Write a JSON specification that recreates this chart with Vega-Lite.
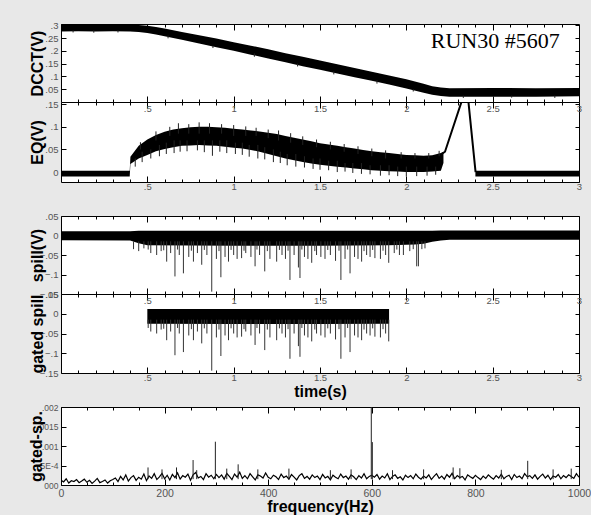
{
"$schema": "https://vega.github.io/schema/vega-lite/v6.json",
"background": "#e8e8e8",
"padding": {"left": 27, "top": 19, "right": 2, "bottom": 0},
"config": {
  "view": {"stroke": "black", "fill": "white", "strokeWidth": 1},
  "axis": {"domain": false, "grid": false, "labelFont": "Liberation Sans Narrow, Liberation Sans, sans-serif", "labelFontSize": 9.5, "labelColor": "#555", "tickColor": "black", "tickWidth": 1, "titleFont": "Liberation Sans", "titleFontSize": 16, "titleFontWeight": "bold", "titleColor": "black", "labelFlush": false, "labelOverlap": false, "labelBound": false}
},
"datasets": {
  "dcct": [
    {"t":0.00,"lo":0.276,"hi":0.304},{"t":0.10,"lo":0.277,"hi":0.303},{"t":0.20,"lo":0.276,"hi":0.304},{"t":0.30,"lo":0.277,"hi":0.303},{"t":0.40,"lo":0.276,"hi":0.303},{"t":0.45,"lo":0.274,"hi":0.301},{"t":0.50,"lo":0.270,"hi":0.298},{"t":0.55,"lo":0.264,"hi":0.293},{"t":0.60,"lo":0.257,"hi":0.287},{"t":0.70,"lo":0.243,"hi":0.274},{"t":0.80,"lo":0.229,"hi":0.261},{"t":0.90,"lo":0.214,"hi":0.248},{"t":1.00,"lo":0.200,"hi":0.234},{"t":1.10,"lo":0.185,"hi":0.220},{"t":1.20,"lo":0.170,"hi":0.206},{"t":1.30,"lo":0.155,"hi":0.191},{"t":1.40,"lo":0.140,"hi":0.177},{"t":1.50,"lo":0.126,"hi":0.162},{"t":1.60,"lo":0.111,"hi":0.148},{"t":1.70,"lo":0.097,"hi":0.133},{"t":1.80,"lo":0.083,"hi":0.118},{"t":1.90,"lo":0.068,"hi":0.104},{"t":2.00,"lo":0.053,"hi":0.089},{"t":2.10,"lo":0.036,"hi":0.071},{"t":2.15,"lo":0.028,"hi":0.062},{"t":2.20,"lo":0.023,"hi":0.057},{"t":2.25,"lo":0.021,"hi":0.054},{"t":2.50,"lo":0.021,"hi":0.055},{"t":2.75,"lo":0.021,"hi":0.054},{"t":3.00,"lo":0.022,"hi":0.055}
  ],
  "dcctn": [
    {"t":0.07,"v":0.272,"b":0.28},{"t":0.19,"v":0.271,"b":0.28},{"t":0.33,"v":0.272,"b":0.28},{"t":0.62,"v":0.249,"b":0.26},{"t":0.88,"v":0.211,"b":0.22},{"t":1.12,"v":0.177,"b":0.19},{"t":1.37,"v":0.139,"b":0.15},{"t":1.58,"v":0.108,"b":0.12},{"t":1.83,"v":0.072,"b":0.085},{"t":2.04,"v":0.041,"b":0.05},{"t":2.33,"v":0.016,"b":0.025},{"t":2.61,"v":0.017,"b":0.025},{"t":2.86,"v":0.016,"b":0.025}
  ],
  "eq": [
    {"s":1,"t":0.000,"lo":-0.010,"hi":0.003},{"s":1,"t":0.398,"lo":-0.010,"hi":0.003},
    {"s":1,"t":0.402,"lo":0.018,"hi":0.034},{"s":1,"t":0.45,"lo":0.030,"hi":0.058},{"s":1,"t":0.50,"lo":0.038,"hi":0.072},{"s":1,"t":0.55,"lo":0.046,"hi":0.082},{"s":1,"t":0.60,"lo":0.051,"hi":0.089},{"s":1,"t":0.65,"lo":0.055,"hi":0.094},{"s":1,"t":0.70,"lo":0.058,"hi":0.097},{"s":1,"t":0.75,"lo":0.059,"hi":0.099},{"s":1,"t":0.80,"lo":0.060,"hi":0.100},{"s":1,"t":0.85,"lo":0.059,"hi":0.100},{"s":1,"t":0.90,"lo":0.058,"hi":0.099},{"s":1,"t":0.95,"lo":0.056,"hi":0.098},{"s":1,"t":1.00,"lo":0.054,"hi":0.096},{"s":1,"t":1.05,"lo":0.052,"hi":0.094},{"s":1,"t":1.10,"lo":0.049,"hi":0.092},{"s":1,"t":1.15,"lo":0.045,"hi":0.090},{"s":1,"t":1.20,"lo":0.040,"hi":0.087},{"s":1,"t":1.25,"lo":0.035,"hi":0.084},{"s":1,"t":1.30,"lo":0.030,"hi":0.080},{"s":1,"t":1.35,"lo":0.026,"hi":0.076},{"s":1,"t":1.40,"lo":0.022,"hi":0.072},{"s":1,"t":1.45,"lo":0.019,"hi":0.068},{"s":1,"t":1.50,"lo":0.016,"hi":0.064},{"s":1,"t":1.55,"lo":0.014,"hi":0.061},{"s":1,"t":1.60,"lo":0.012,"hi":0.058},{"s":1,"t":1.65,"lo":0.010,"hi":0.055},{"s":1,"t":1.70,"lo":0.008,"hi":0.052},{"s":1,"t":1.75,"lo":0.006,"hi":0.049},{"s":1,"t":1.80,"lo":0.004,"hi":0.046},{"s":1,"t":1.85,"lo":0.003,"hi":0.044},{"s":1,"t":1.90,"lo":0.002,"hi":0.042},{"s":1,"t":1.95,"lo":0.001,"hi":0.040},{"s":1,"t":2.00,"lo":0.000,"hi":0.038},{"s":1,"t":2.05,"lo":0.000,"hi":0.037},{"s":1,"t":2.10,"lo":0.000,"hi":0.036},{"s":1,"t":2.15,"lo":0.001,"hi":0.037},{"s":1,"t":2.20,"lo":0.003,"hi":0.042},{"s":1,"t":2.215,"lo":0.020,"hi":0.045},
    {"s":2,"t":2.400,"lo":-0.010,"hi":0.003},{"s":2,"t":3.000,"lo":-0.010,"hi":0.003}
  ],
  "eqpeak": [
    {"t":2.205,"v":0.040},{"t":2.224,"v":0.045},{"t":2.346,"v":0.186},{"t":2.352,"v":0.184},{"t":2.401,"v":0.0}
  ],
  "eqspk": [
    {"t":0.43,"v":0.012,"b":0.03},{"t":0.47,"v":0.022,"b":0.045},{"t":0.52,"v":0.030,"b":0.05},{"t":0.57,"v":0.035,"b":0.06},{"t":0.61,"v":0.040,"b":0.065},{"t":0.655,"v":0.042,"b":0.07},{"t":0.69,"v":0.045,"b":0.07},{"t":0.73,"v":0.046,"b":0.07},{"t":0.79,"v":0.048,"b":0.07},{"t":0.83,"v":0.044,"b":0.07},{"t":0.877,"v":0.036,"b":0.07},{"t":0.92,"v":0.045,"b":0.07},{"t":0.96,"v":0.042,"b":0.07},{"t":1.01,"v":0.040,"b":0.065},{"t":1.05,"v":0.038,"b":0.065},{"t":1.09,"v":0.034,"b":0.06},{"t":1.14,"v":0.030,"b":0.06},{"t":1.18,"v":0.028,"b":0.055},{"t":1.23,"v":0.022,"b":0.05},{"t":1.27,"v":0.020,"b":0.045},{"t":1.31,"v":0.015,"b":0.04},{"t":1.36,"v":0.012,"b":0.04},{"t":1.41,"v":0.010,"b":0.035},{"t":1.46,"v":0.007,"b":0.03},{"t":1.50,"v":0.005,"b":0.03},{"t":1.55,"v":0.004,"b":0.025},{"t":1.60,"v":0.000,"b":0.025},{"t":1.645,"v":0.001,"b":0.02},{"t":1.69,"v":-0.002,"b":0.02},{"t":1.74,"v":-0.004,"b":0.02},{"t":1.79,"v":-0.005,"b":0.015},{"t":1.85,"v":-0.008,"b":0.015},{"t":1.90,"v":-0.007,"b":0.015},{"t":1.95,"v":-0.009,"b":0.012},{"t":2.00,"v":-0.010,"b":0.012},{"t":2.06,"v":-0.009,"b":0.012},{"t":2.12,"v":-0.008,"b":0.012},{"t":2.17,"v":-0.006,"b":0.012},
    {"t":0.46,"v":0.066,"b":0.05},{"t":0.55,"v":0.090,"b":0.07},{"t":0.63,"v":0.100,"b":0.08},{"t":0.68,"v":0.108,"b":0.085},{"t":0.74,"v":0.106,"b":0.085},{"t":0.80,"v":0.110,"b":0.085},{"t":0.86,"v":0.108,"b":0.085},{"t":0.93,"v":0.106,"b":0.085},{"t":1.00,"v":0.104,"b":0.08},{"t":1.07,"v":0.101,"b":0.08},{"t":1.13,"v":0.098,"b":0.08},{"t":1.20,"v":0.094,"b":0.075},{"t":1.26,"v":0.092,"b":0.07},{"t":1.33,"v":0.086,"b":0.065},{"t":1.40,"v":0.079,"b":0.06},{"t":1.48,"v":0.072,"b":0.055},{"t":1.56,"v":0.067,"b":0.05},{"t":1.64,"v":0.062,"b":0.045},{"t":1.72,"v":0.057,"b":0.04},{"t":1.80,"v":0.052,"b":0.035},{"t":1.88,"v":0.048,"b":0.03},{"t":1.97,"v":0.044,"b":0.03},{"t":2.05,"v":0.042,"b":0.03},{"t":2.13,"v":0.042,"b":0.03},{"t":2.19,"v":0.047,"b":0.035}
  ],
  "spill": [
    {"t":0.00,"lo":-0.012,"hi":0.011},{"t":0.40,"lo":-0.013,"hi":0.011},{"t":0.45,"lo":-0.020,"hi":0.012},{"t":0.50,"lo":-0.025,"hi":0.012},{"t":1.00,"lo":-0.026,"hi":0.012},{"t":1.50,"lo":-0.026,"hi":0.012},{"t":1.90,"lo":-0.025,"hi":0.012},{"t":2.05,"lo":-0.023,"hi":0.012},{"t":2.10,"lo":-0.021,"hi":0.012},{"t":2.15,"lo":-0.016,"hi":0.012},{"t":2.20,"lo":-0.013,"hi":0.013},{"t":2.25,"lo":-0.011,"hi":0.013},{"t":3.00,"lo":-0.011,"hi":0.013}
  ],
  "spk": [
    {"t":0.42,"v":-0.035},{"t":0.45,"v":-0.040},{"t":0.48,"v":-0.033},{"t":0.52,"v":-0.045},{"t":0.554,"v":-0.050},{"t":0.58,"v":-0.040},{"t":0.612,"v":-0.067},{"t":0.635,"v":-0.045},{"t":0.66,"v":-0.105},{"t":0.685,"v":-0.050},{"t":0.709,"v":-0.097},{"t":0.74,"v":-0.055},{"t":0.767,"v":-0.067},{"t":0.79,"v":-0.045},{"t":0.815,"v":-0.075},{"t":0.845,"v":-0.050},{"t":0.873,"v":-0.144},{"t":0.90,"v":-0.060},{"t":0.926,"v":-0.107},{"t":0.95,"v":-0.055},{"t":0.97,"v":-0.067},{"t":1.00,"v":-0.050},{"t":1.02,"v":-0.060},{"t":1.046,"v":-0.058},{"t":1.07,"v":-0.045},{"t":1.10,"v":-0.055},{"t":1.124,"v":-0.079},{"t":1.15,"v":-0.050},{"t":1.18,"v":-0.092},{"t":1.21,"v":-0.060},{"t":1.249,"v":-0.067},{"t":1.28,"v":-0.050},{"t":1.30,"v":-0.060},{"t":1.326,"v":-0.114},{"t":1.35,"v":-0.050},{"t":1.375,"v":-0.082},{"t":1.384,"v":-0.109},{"t":1.41,"v":-0.055},{"t":1.43,"v":-0.060},{"t":1.452,"v":-0.070},{"t":1.48,"v":-0.050},{"t":1.505,"v":-0.055},{"t":1.529,"v":-0.060},{"t":1.56,"v":-0.050},{"t":1.59,"v":-0.065},{"t":1.621,"v":-0.114},{"t":1.645,"v":-0.060},{"t":1.674,"v":-0.097},{"t":1.70,"v":-0.055},{"t":1.72,"v":-0.060},{"t":1.741,"v":-0.067},{"t":1.77,"v":-0.050},{"t":1.79,"v":-0.055},{"t":1.818,"v":-0.058},{"t":1.85,"v":-0.060},{"t":1.88,"v":-0.050},{"t":1.898,"v":-0.070},{"t":1.93,"v":-0.045},{"t":1.96,"v":-0.050},{"t":1.983,"v":-0.050},{"t":2.02,"v":-0.040},{"t":2.06,"v":-0.079},{"t":2.07,"v":-0.079},{"t":2.09,"v":-0.035},{"t":2.108,"v":-0.033},
    {"t":0.505,"v":-0.036},{"t":0.595,"v":-0.038},{"t":0.675,"v":-0.036},{"t":0.755,"v":-0.039},{"t":0.83,"v":-0.037},{"t":0.915,"v":-0.040},{"t":0.985,"v":-0.037},{"t":1.06,"v":-0.039},{"t":1.135,"v":-0.036},{"t":1.195,"v":-0.040},{"t":1.265,"v":-0.037},{"t":1.315,"v":-0.039},{"t":1.395,"v":-0.036},{"t":1.47,"v":-0.040},{"t":1.545,"v":-0.037},{"t":1.61,"v":-0.039},{"t":1.66,"v":-0.036},{"t":1.755,"v":-0.040},{"t":1.805,"v":-0.037},{"t":1.865,"v":-0.039},{"t":1.945,"v":-0.036},{"t":2.04,"v":-0.035}
  ],
  "spec": [
    {"f":0,"a":1.2e-4},{"f":5,"a":0.8e-4},{"f":10,"a":1.6e-4},{"f":15,"a":0.5e-4},{"f":20,"a":1.1e-4},{"f":25,"a":0.9e-4},{"f":30,"a":1.4e-4},{"f":35,"a":0.6e-4},{"f":40,"a":1.0e-4},{"f":45,"a":1.5e-4},{"f":50,"a":0.7e-4},{"f":55,"a":1.2e-4},{"f":60,"a":0.4e-4},{"f":65,"a":1.0e-4},{"f":70,"a":1.7e-4},{"f":75,"a":0.6e-4},{"f":80,"a":0.9e-4},{"f":85,"a":1.3e-4},{"f":90,"a":0.5e-4},{"f":95,"a":1.1e-4},{"f":100,"a":1.4e-4},
    {"f":105,"a":1.8e-4},{"f":110,"a":0.9e-4},{"f":115,"a":2.2e-4},{"f":120,"a":1.3e-4},{"f":125,"a":2.6e-4},{"f":130,"a":1.0e-4},{"f":135,"a":1.9e-4},{"f":140,"a":2.4e-4},{"f":145,"a":1.2e-4},{"f":150,"a":2.0e-4},{"f":155,"a":1.5e-4},{"f":160,"a":2.8e-4},{"f":165,"a":1.1e-4},{"f":170,"a":2.3e-4},{"f":175,"a":1.7e-4},{"f":180,"a":2.9e-4},{"f":185,"a":1.4e-4},{"f":190,"a":2.1e-4},{"f":195,"a":3.0e-4},{"f":200,"a":1.6e-4},
    {"f":205,"a":2.5e-4},{"f":210,"a":1.3e-4},{"f":215,"a":2.7e-4},{"f":220,"a":1.9e-4},{"f":225,"a":3.1e-4},{"f":230,"a":1.5e-4},{"f":235,"a":2.4e-4},{"f":240,"a":2.0e-4},{"f":245,"a":2.8e-4},{"f":250,"a":1.2e-4},{"f":255,"a":2.6e-4},{"f":260,"a":3.2e-4},{"f":265,"a":1.8e-4},{"f":270,"a":2.2e-4},{"f":275,"a":1.4e-4},{"f":280,"a":2.9e-4},{"f":285,"a":2.0e-4},{"f":290,"a":2.5e-4},{"f":295,"a":1.6e-4},{"f":300,"a":2.7e-4},
    {"f":305,"a":1.9e-4},{"f":310,"a":2.6e-4},{"f":315,"a":1.5e-4},{"f":320,"a":3.0e-4},{"f":325,"a":2.2e-4},{"f":330,"a":1.4e-4},{"f":335,"a":2.8e-4},{"f":340,"a":2.0e-4},{"f":345,"a":3.3e-4},{"f":350,"a":1.7e-4},{"f":355,"a":2.4e-4},{"f":360,"a":1.6e-4},{"f":365,"a":2.9e-4},{"f":370,"a":2.1e-4},{"f":375,"a":1.3e-4},{"f":380,"a":2.6e-4},{"f":385,"a":2.3e-4},{"f":390,"a":1.8e-4},{"f":395,"a":3.1e-4},{"f":400,"a":2.0e-4},
    {"f":405,"a":1.6e-4},{"f":410,"a":2.5e-4},{"f":415,"a":2.1e-4},{"f":420,"a":1.4e-4},{"f":425,"a":2.8e-4},{"f":430,"a":1.9e-4},{"f":435,"a":2.3e-4},{"f":440,"a":1.5e-4},{"f":445,"a":2.7e-4},{"f":450,"a":2.0e-4},{"f":455,"a":1.3e-4},{"f":460,"a":2.4e-4},{"f":465,"a":2.9e-4},{"f":470,"a":1.7e-4},{"f":475,"a":2.2e-4},{"f":480,"a":1.5e-4},{"f":485,"a":2.6e-4},{"f":490,"a":1.9e-4},{"f":495,"a":2.3e-4},{"f":500,"a":1.4e-4},
    {"f":505,"a":2.7e-4},{"f":510,"a":1.8e-4},{"f":515,"a":2.2e-4},{"f":520,"a":1.3e-4},{"f":525,"a":2.5e-4},{"f":530,"a":2.0e-4},{"f":535,"a":1.6e-4},{"f":540,"a":2.8e-4},{"f":545,"a":1.9e-4},{"f":550,"a":2.3e-4},{"f":555,"a":1.5e-4},{"f":560,"a":2.6e-4},{"f":565,"a":2.1e-4},{"f":570,"a":1.4e-4},{"f":575,"a":2.4e-4},{"f":580,"a":1.8e-4},{"f":585,"a":2.9e-4},{"f":590,"a":1.6e-4},{"f":595,"a":2.2e-4},{"f":600,"a":2.5e-4},
    {"f":605,"a":2.0e-4},{"f":610,"a":2.7e-4},{"f":615,"a":1.5e-4},{"f":620,"a":2.3e-4},{"f":625,"a":1.8e-4},{"f":630,"a":2.9e-4},{"f":635,"a":1.4e-4},{"f":640,"a":2.2e-4},{"f":645,"a":2.6e-4},{"f":650,"a":1.7e-4},{"f":655,"a":2.1e-4},{"f":660,"a":1.3e-4},{"f":665,"a":2.5e-4},{"f":670,"a":1.9e-4},{"f":675,"a":2.4e-4},{"f":680,"a":1.6e-4},{"f":685,"a":2.8e-4},{"f":690,"a":2.0e-4},{"f":695,"a":1.5e-4},{"f":700,"a":2.3e-4},
    {"f":705,"a":1.8e-4},{"f":710,"a":2.6e-4},{"f":715,"a":1.4e-4},{"f":720,"a":2.2e-4},{"f":725,"a":2.9e-4},{"f":730,"a":1.7e-4},{"f":735,"a":2.3e-4},{"f":740,"a":1.5e-4},{"f":745,"a":2.7e-4},{"f":750,"a":2.0e-4},{"f":755,"a":3.0e-4},{"f":760,"a":1.6e-4},{"f":765,"a":2.4e-4},{"f":770,"a":1.9e-4},{"f":775,"a":2.2e-4},{"f":780,"a":1.3e-4},{"f":785,"a":2.6e-4},{"f":790,"a":2.1e-4},{"f":795,"a":1.7e-4},{"f":800,"a":2.5e-4},
    {"f":805,"a":1.9e-4},{"f":810,"a":1.4e-4},{"f":815,"a":2.3e-4},{"f":820,"a":1.7e-4},{"f":825,"a":2.6e-4},{"f":830,"a":2.0e-4},{"f":835,"a":1.5e-4},{"f":840,"a":2.4e-4},{"f":845,"a":1.8e-4},{"f":850,"a":2.8e-4},{"f":855,"a":1.6e-4},{"f":860,"a":2.2e-4},{"f":865,"a":2.5e-4},{"f":870,"a":1.4e-4},{"f":875,"a":2.7e-4},{"f":880,"a":1.9e-4},{"f":885,"a":2.3e-4},{"f":890,"a":1.6e-4},{"f":895,"a":2.9e-4},{"f":900,"a":2.1e-4},
    {"f":905,"a":2.4e-4},{"f":910,"a":1.7e-4},{"f":915,"a":2.6e-4},{"f":920,"a":1.5e-4},{"f":925,"a":2.2e-4},{"f":930,"a":2.8e-4},{"f":935,"a":1.8e-4},{"f":940,"a":2.5e-4},{"f":945,"a":1.4e-4},{"f":950,"a":2.3e-4},{"f":955,"a":2.0e-4},{"f":960,"a":2.7e-4},{"f":965,"a":1.6e-4},{"f":970,"a":2.4e-4},{"f":975,"a":1.9e-4},{"f":980,"a":2.6e-4},{"f":985,"a":2.2e-4},{"f":990,"a":1.7e-4},{"f":995,"a":2.9e-4},{"f":1000,"a":2.0e-4}
  ],
  "specspk": [
    {"f":168,"a":4.5e-4},{"f":195,"a":4.0e-4},{"f":223,"a":4.5e-4},{"f":255,"a":6.4e-4},{"f":262,"a":3.8e-4},{"f":298,"a":11.1e-4},{"f":320,"a":4.2e-4},{"f":342,"a":5.3e-4},{"f":380,"a":4.0e-4},{"f":440,"a":4.2e-4},{"f":520,"a":3.8e-4},{"f":560,"a":4.0e-4},{"f":599,"a":21e-4},{"f":601,"a":11e-4},{"f":640,"a":3.8e-4},{"f":700,"a":4.0e-4},{"f":757,"a":4.5e-4},{"f":770,"a":4.3e-4},{"f":850,"a":3.9e-4},{"f":901,"a":6.2e-4},{"f":950,"a":4.0e-4},{"f":985,"a":4.2e-4}
  ]
},
"spacing": 0,
"bounds": "flush",
"vconcat": [
    {"width": 518, "height": 78,
     "resolve": {"axis": {"x": "independent", "y": "independent"}},
     "layer": [
      {"data": {"name": "dcct"}, "mark": {"type": "area", "color": "black", "clip": true},
       "encoding": {
        "x": {"field": "t", "type": "quantitative", "scale": {"domain": [0, 3], "nice": false, "zero": false},
              "axis": {"orient": "bottom", "title": null, "labels": false, "values": [0.1,0.2,0.3,0.4,0.5,0.6,0.7,0.8,0.9,1,1.1,1.2,1.3,1.4,1.5,1.6,1.7,1.8,1.9,2,2.1,2.2,2.3,2.4,2.5,2.6,2.7,2.8,2.9],
                       "tickSize": {"condition": {"test": "datum.value*2==round(datum.value*2)", "value": -6}, "value": -3}}},
        "y": {"field": "lo", "type": "quantitative", "scale": {"domain": [0, 0.305], "nice": false, "zero": false},
              "axis": {"orient": "left", "values": [0.05,0.1,0.15,0.2,0.25,0.3], "labelExpr": "replace(format(datum.value,'~g'),'0.','.')", "tickSize": -5, "labelPadding": 8,
                       "title": "DCCT(V)", "titleX": -24, "titleY": 39, "titleAngle": -90, "titleAlign": "center", "titleBaseline": "middle"}},
        "y2": {"field": "hi"}
       }},
      {"data": {"name": "dcctn"}, "mark": {"type": "rule", "color": "#222", "strokeWidth": 1, "clip": true},
       "encoding": {
        "x": {"field": "t", "type": "quantitative", "scale": {"domain": [0, 3], "nice": false, "zero": false},
              "axis": {"orient": "top", "title": null, "labels": false, "values": [0.1,0.2,0.3,0.4,0.5,0.6,0.7,0.8,0.9,1,1.1,1.2,1.3,1.4,1.5,1.6,1.7,1.8,1.9,2,2.1,2.2,2.3,2.4,2.5,2.6,2.7,2.8,2.9],
                       "tickSize": {"condition": {"test": "datum.value*2==round(datum.value*2)", "value": -6}, "value": -3}}},
        "y": {"field": "v", "type": "quantitative", "scale": {"domain": [0, 0.305], "nice": false, "zero": false},
              "axis": {"orient": "right", "title": null, "labels": false, "values": [0.05,0.1,0.15,0.2,0.25,0.3], "tickSize": -4}},
        "y2": {"field": "b"}
       }},
      {"data": {"values": [{}]}, "mark": {"type": "text", "font": "Liberation Serif", "fontSize": 22, "align": "right", "baseline": "alphabetic", "color": "black"},
       "encoding": {
        "x": {"datum": 2.888, "type": "quantitative", "scale": {"domain": [0, 3], "nice": false, "zero": false}, "axis": null},
        "y": {"datum": 0.211, "type": "quantitative", "scale": {"domain": [0, 0.305], "nice": false, "zero": false}, "axis": null},
        "text": {"value": "RUN30 #5607"}
       }}
     ]},
    {"width": 518, "height": 80,
     "resolve": {"axis": {"x": "independent", "y": "independent"}},
     "layer": [
      {"data": {"name": "eq"}, "mark": {"type": "area", "color": "black", "clip": true},
       "encoding": {
        "x": {"field": "t", "type": "quantitative", "scale": {"domain": [0, 3], "nice": false, "zero": false},
              "axis": {"orient": "bottom", "title": null, "values": [0.1,0.2,0.3,0.4,0.5,0.6,0.7,0.8,0.9,1,1.1,1.2,1.3,1.4,1.5,1.6,1.7,1.8,1.9,2,2.1,2.2,2.3,2.4,2.5,2.6,2.7,2.8,2.9,3],
                       "labelExpr": "datum.value*2==round(datum.value*2) ? replace(format(datum.value,'~g'),'0.','.') : ''",
                       "labelBaseline": "middle", "labelPadding": 10,
                       "tickSize": {"condition": {"test": "datum.value*2==round(datum.value*2)", "value": -6}, "value": -3}}},
        "y": {"field": "lo", "type": "quantitative", "scale": {"domain": [-0.022, 0.155], "nice": false, "zero": false},
              "axis": {"orient": "left", "values": [0,0.05,0.1,0.15], "labelExpr": "replace(format(datum.value,'~g'),'0.','.')", "tickSize": -5, "labelPadding": 8,
                       "title": "EQ(V)", "titleX": -24, "titleY": 40, "titleAngle": -90, "titleAlign": "center", "titleBaseline": "middle"}},
        "y2": {"field": "hi"},
        "detail": {"field": "s"}
       }},
      {"data": {"name": "eqspk"}, "mark": {"type": "rule", "color": "#222", "strokeWidth": 1, "clip": true},
       "encoding": {
        "x": {"field": "t", "type": "quantitative", "scale": {"domain": [0, 3], "nice": false, "zero": false},
              "axis": {"orient": "top", "title": null, "values": [0.1,0.2,0.3,0.4,0.5,0.6,0.7,0.8,0.9,1,1.1,1.2,1.3,1.4,1.5,1.6,1.7,1.8,1.9,2,2.1,2.2,2.3,2.4,2.5,2.6,2.7,2.8,2.9,3],
                       "labelExpr": "datum.value*2==round(datum.value*2) ? replace(format(datum.value,'~g'),'0.','.') : ''",
                       "labelBaseline": "middle", "labelPadding": 0,
                       "tickSize": {"condition": {"test": "datum.value*2==round(datum.value*2)", "value": -6}, "value": -3}}},
        "y": {"field": "v", "type": "quantitative", "scale": {"domain": [-0.022, 0.155], "nice": false, "zero": false},
              "axis": {"orient": "right", "title": null, "labels": false, "values": [0,0.05,0.1,0.15], "tickSize": -4}},
        "y2": {"field": "b"}
       }},
      {"data": {"name": "eqpeak"}, "mark": {"type": "line", "color": "black", "strokeWidth": 2, "clip": true},
       "encoding": {
        "x": {"field": "t", "type": "quantitative", "scale": {"domain": [0, 3], "nice": false, "zero": false}, "axis": null},
        "y": {"field": "v", "type": "quantitative", "scale": {"domain": [-0.022, 0.155], "nice": false, "zero": false}, "axis": null}
       }}
     ]},
    {"width": 518, "height": 34, "data": {"values": []}, "mark": "point", "view": {"stroke": null, "fill": null}},
    {"width": 518, "height": 78,
     "resolve": {"axis": {"x": "independent", "y": "independent"}},
     "layer": [
      {"data": {"name": "spill"}, "mark": {"type": "area", "color": "black", "clip": true},
       "encoding": {
        "x": {"field": "t", "type": "quantitative", "scale": {"domain": [0, 3], "nice": false, "zero": false},
              "axis": {"orient": "bottom", "title": null, "labels": false, "values": [0.1,0.2,0.3,0.4,0.5,0.6,0.7,0.8,0.9,1,1.1,1.2,1.3,1.4,1.5,1.6,1.7,1.8,1.9,2,2.1,2.2,2.3,2.4,2.5,2.6,2.7,2.8,2.9],
                       "tickSize": {"condition": {"test": "datum.value*2==round(datum.value*2)", "value": -6}, "value": -3}}},
        "y": {"field": "lo", "type": "quantitative", "scale": {"domain": [-0.15, 0.05], "nice": false, "zero": false},
              "axis": {"orient": "left", "values": [-0.15,-0.1,-0.05,0,0.05], "labelExpr": "replace(format(datum.value,'~g'),'0.','.')", "tickSize": -5, "labelPadding": 8,
                       "title": "spill(V)", "titleX": -24, "titleY": 39, "titleAngle": -90, "titleAlign": "center", "titleBaseline": "middle"}},
        "y2": {"field": "hi"}
       }},
      {"data": {"name": "spk"}, "mark": {"type": "rule", "color": "#333", "strokeWidth": 1, "clip": true},
       "encoding": {
        "x": {"field": "t", "type": "quantitative", "scale": {"domain": [0, 3], "nice": false, "zero": false},
              "axis": {"orient": "top", "title": null, "labels": false, "values": [0.1,0.2,0.3,0.4,0.5,0.6,0.7,0.8,0.9,1,1.1,1.2,1.3,1.4,1.5,1.6,1.7,1.8,1.9,2,2.1,2.2,2.3,2.4,2.5,2.6,2.7,2.8,2.9],
                       "tickSize": {"condition": {"test": "datum.value*2==round(datum.value*2)", "value": -6}, "value": -3}}},
        "y": {"field": "v", "type": "quantitative", "scale": {"domain": [-0.15, 0.05], "nice": false, "zero": false},
              "axis": {"orient": "right", "title": null, "labels": false, "values": [-0.15,-0.1,-0.05,0,0.05], "tickSize": -4}},
        "y2": {"datum": -0.015}
       }}
     ]},
    {"width": 518, "height": 79,
     "resolve": {"axis": {"x": "independent", "y": "independent"}},
     "layer": [
      {"data": {"name": "spill"}, "transform": [{"filter": "datum.t >= 0.5 && datum.t <= 1.9"}],
       "mark": {"type": "area", "color": "black", "clip": true},
       "encoding": {
        "x": {"field": "t", "type": "quantitative", "scale": {"domain": [0, 3], "nice": false, "zero": false},
              "axis": {"orient": "bottom", "values": [0.1,0.2,0.3,0.4,0.5,0.6,0.7,0.8,0.9,1,1.1,1.2,1.3,1.4,1.5,1.6,1.7,1.8,1.9,2,2.1,2.2,2.3,2.4,2.5,2.6,2.7,2.8,2.9,3],
                       "labelExpr": "datum.value*2==round(datum.value*2) ? replace(format(datum.value,'~g'),'0.','.') : ''",
                       "labelBaseline": "middle", "labelPadding": 10,
                       "tickSize": {"condition": {"test": "datum.value*2==round(datum.value*2)", "value": -6}, "value": -3},
                       "title": "time(s)", "titleY": 18.5, "titleBaseline": "middle"}},
        "y": {"field": "lo", "type": "quantitative", "scale": {"domain": [-0.15, 0.05], "nice": false, "zero": false},
              "axis": {"orient": "left", "values": [-0.15,-0.1,-0.05,0,0.05], "labelExpr": "replace(format(datum.value,'~g'),'0.','.')", "tickSize": -5, "labelPadding": 8,
                       "title": "gated spill", "titleX": -24, "titleY": 39.5, "titleAngle": -90, "titleAlign": "center", "titleBaseline": "middle"}},
        "y2": {"field": "hi"}
       }},
      {"data": {"name": "spk"}, "transform": [{"filter": "datum.t >= 0.5 && datum.t <= 1.9"}],
       "mark": {"type": "rule", "color": "#333", "strokeWidth": 1, "clip": true},
       "encoding": {
        "x": {"field": "t", "type": "quantitative", "scale": {"domain": [0, 3], "nice": false, "zero": false},
              "axis": {"orient": "top", "title": null, "values": [0.1,0.2,0.3,0.4,0.5,0.6,0.7,0.8,0.9,1,1.1,1.2,1.3,1.4,1.5,1.6,1.7,1.8,1.9,2,2.1,2.2,2.3,2.4,2.5,2.6,2.7,2.8,2.9,3],
                       "labelExpr": "datum.value*2==round(datum.value*2) ? replace(format(datum.value,'~g'),'0.','.') : ''",
                       "labelBaseline": "middle", "labelPadding": 0,
                       "tickSize": {"condition": {"test": "datum.value*2==round(datum.value*2)", "value": -6}, "value": -3}}},
        "y": {"field": "v", "type": "quantitative", "scale": {"domain": [-0.15, 0.05], "nice": false, "zero": false},
              "axis": {"orient": "right", "title": null, "labels": false, "values": [-0.15,-0.1,-0.05,0,0.05], "tickSize": -4}},
        "y2": {"datum": -0.015}
       }}
     ]},
    {"width": 518, "height": 34, "data": {"values": []}, "mark": "point", "view": {"stroke": null, "fill": null}},
    {"width": 518, "height": 78,
     "resolve": {"axis": {"x": "independent", "y": "independent"}},
     "layer": [
      {"data": {"name": "spec"}, "mark": {"type": "line", "color": "black", "strokeWidth": 1.2, "clip": true},
       "encoding": {
        "x": {"field": "f", "type": "quantitative", "scale": {"domain": [0, 1000], "nice": false, "zero": false},
              "axis": {"orient": "bottom", "values": [0,50,100,150,200,250,300,350,400,450,500,550,600,650,700,750,800,850,900,950,1000],
                       "labelExpr": "datum.value % 200 == 0 ? format(datum.value,'d') : ''",
                       "labelBaseline": "middle", "labelPadding": 14, "labelFontSize": 10.5,
                       "tickSize": {"condition": {"test": "datum.value % 200 == 0", "value": -6}, "value": -3},
                       "title": "frequency(Hz)", "titleY": 21, "titleBaseline": "middle"}},
        "y": {"field": "a", "type": "quantitative", "scale": {"domain": [0, 0.002], "nice": false, "zero": false},
              "axis": {"orient": "left", "values": [0,0.0005,0.001,0.0015,0.002],
                       "labelExpr": "datum.value == 0 ? '000' : datum.value == 0.0005 ? '5E-4' : replace(format(datum.value,'~g'),'0.','.')",
                       "tickSize": -5, "labelPadding": 8, "labelFontSize": 8.5,
                       "title": "gated-sp.", "titleX": -25, "titleY": 39, "titleAngle": -90, "titleAlign": "center", "titleBaseline": "middle"}}
       }},
      {"data": {"name": "specspk"}, "mark": {"type": "rule", "color": "#222", "strokeWidth": 1, "clip": true},
       "encoding": {
        "x": {"field": "f", "type": "quantitative", "scale": {"domain": [0, 1000], "nice": false, "zero": false},
              "axis": {"orient": "top", "title": null, "labels": false, "values": [0,50,100,150,200,250,300,350,400,450,500,550,600,650,700,750,800,850,900,950,1000],
                       "tickSize": {"condition": {"test": "datum.value % 200 == 0", "value": -6}, "value": -3}}},
        "y": {"field": "a", "type": "quantitative", "scale": {"domain": [0, 0.002], "nice": false, "zero": false},
              "axis": {"orient": "right", "title": null, "labels": false, "values": [0,0.0005,0.001,0.0015,0.002], "tickSize": -4}},
        "y2": {"datum": 0.00015}
       }}
     ]}
]
}
